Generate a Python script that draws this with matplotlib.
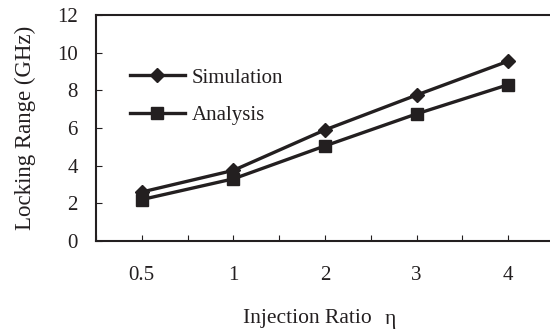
import numpy as np
import matplotlib.pyplot as plt

plt.rcParams['font.family'] = ['Liberation Serif', 'DejaVu Serif']

ratios = ['0.5', '1', '2', '3', '4']
simulation = [2.6, 3.75, 5.9, 7.75, 9.55]
analysis = [2.2, 3.3, 5.05, 6.75, 8.3]

ink = '#231f20'

fig = plt.figure(figsize=(5.5, 3.33), dpi=100)
ax = fig.add_axes([0.1745, 0.2763, 0.833, 0.6787])

x = np.arange(len(ratios))
ax.plot(x, simulation, color=ink, lw=2.4, marker='D', ms=7, label='Simulation')
ax.plot(x, analysis, color=ink, lw=2.4, marker='s', ms=8, label='Analysis')

ax.set_xlim(-0.5, len(ratios) - 0.5)
ax.set_ylim(0, 12)
ax.set_yticks(range(0, 13, 2))
ax.set_xticks(x)
ax.set_xticklabels(ratios)
ax.set_xticks(np.arange(-0.5, len(ratios), 1), minor=True)

for s in ax.spines.values():
    s.set_linewidth(1.5)
    s.set_color(ink)

ax.tick_params(axis='both', which='both', direction='in', colors=ink,
               labelsize=15, width=0.8)
ax.tick_params(axis='x', which='major', length=4, pad=18)
ax.tick_params(axis='x', which='minor', length=4)
ax.tick_params(axis='y', length=4, pad=13)

ax.set_ylabel('Locking Range (GHz)', fontsize=16.5, color=ink, labelpad=15)

# x label, with the eta set apart as in the original figure
fig.text(0.558, 0.030, 'Injection Ratio', fontsize=15.5, color=ink,
         ha='center', va='baseline')
fig.text(0.709, 0.028, 'η', fontsize=15.5, color=ink, ha='center', va='baseline')

ax.legend(loc='upper left', bbox_to_anchor=(0.074, 0.765), frameon=False,
          borderpad=0, borderaxespad=0, fontsize=15, handlelength=2.64,
          handletextpad=0.34, labelspacing=0.85, labelcolor=ink)

fig.savefig('out.png', dpi=100)
